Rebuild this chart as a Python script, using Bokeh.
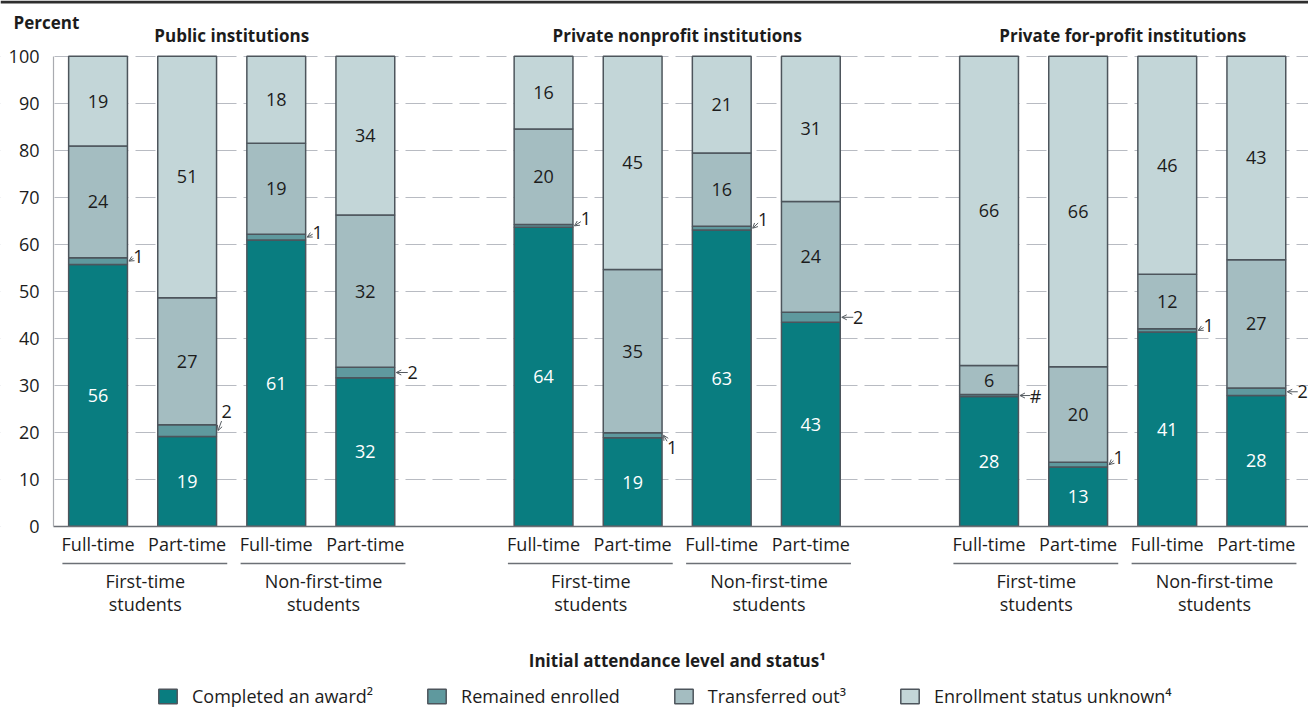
from bokeh.plotting import figure
from bokeh.models import (ColumnDataSource, FixedTicker, Label, Arrow, OpenHead,
                          Legend, LegendItem, Range1d, LinearAxis, BoxAnnotation)
from bokeh.embed import file_html
from bokeh.resources import INLINE
from bokeh.core.properties import value

# ---------------- data ----------------
panels = ["Public institutions", "Private nonprofit institutions", "Private for-profit institutions"]
statuses = ["Full-time", "Part-time", "Full-time", "Part-time"]
groups = [("First-time", "students"), ("Non-first-time", "students")]
series_names = ["Completed an award\u00b2", "Remained enrolled", "Transferred out\u00b3",
                "Enrollment status unknown\u2074"]
y_ticks = [0, 10, 20, 30, 40, 50, 60, 70, 80, 90, 100]
y_label = "Percent"
x_title = "Initial attendance level and status\u00b9"

completed = [55.7, 19.1, 60.9, 31.6, 63.6, 18.8, 63.0, 43.4, 27.6, 12.6, 41.3, 27.8]
remained = [1.4, 2.5, 1.2, 2.2, 0.6, 1.1, 0.8, 2.1, 0.4, 1.0, 0.7, 1.6]
transferred = [23.8, 27.0, 19.4, 32.4, 20.3, 34.7, 15.6, 23.6, 6.2, 20.3, 11.6, 27.3]
unknown = [19.1, 51.4, 18.5, 33.8, 15.5, 45.4, 20.6, 30.9, 65.8, 66.1, 46.4, 43.3]

completed_lbl = ["56", "19", "61", "32", "64", "19", "63", "43", "28", "13", "41", "28"]
remained_lbl = ["1", "2", "1", "2", "1", "1", "1", "2", "#", "1", "1", "2"]
transferred_lbl = ["24", "27", "19", "32", "20", "35", "16", "24", "6", "20", "12", "27"]
unknown_lbl = ["19", "51", "18", "34", "16", "45", "21", "31", "66", "66", "46", "43"]

# ---------------- style ----------------
FONT = "Open Sans"
TXT = "#1c1c1c"
COLORS = ["#097d80", "#5f999e", "#a4bdc1", "#c3d6d8"]
OUTLINE = "#4d555c"
W, H = 1308, 711
PX_X = 89.1   # pixels per x unit
PX_Y = 4.7    # pixels per y unit
X0_PX, Y100_PX = 53.0, 55.7        # page pixel of x=-0.5 and y=100
HALF_W = 0.33
# pixel offsets of the small "remained enrolled" callouts (screen y down)
rem_dx = [11, 10, 12, 18, 13, 10, 12, 18, 17, 11, 12, 17]
rem_dy = [-5, -19, -5, 0, -7, 12, -9, 0, 0, -7, -5, 0]


def dx_(px):  # page x pixel -> data x
    return -0.5 + (px - X0_PX) / PX_X


def dy_(py):  # page y pixel -> data y
    return 100 + (Y100_PX - py) / PX_Y


n = len(completed)
xs = [(i // 4) * 5 + (i % 4) for i in range(n)]

src = ColumnDataSource(dict(x=xs, completed=completed, remained=remained,
                            transferred=transferred, unknown=unknown))

p = figure(width=W, height=H, x_range=Range1d(dx_(0), dx_(W)), y_range=Range1d(dy_(H), dy_(0)),
           output_backend="svg", toolbar_location=None,
           x_axis_location=None, y_axis_location=None, min_border=0)
p.outline_line_color = None
p.background_fill_color = "white"
p.xgrid.visible = False
p.ygrid.ticker = FixedTicker(ticks=y_ticks)
p.ygrid.grid_line_color = "#b8bbc2"
p.ygrid.grid_line_width = 1.2
p.ygrid.grid_line_dash = "20 7"
# keep grid lines from running under the y tick labels
p.add_layout(BoxAnnotation(right=-0.5, fill_color="white", fill_alpha=1, line_color=None,
                           level="underlay"))

ya = LinearAxis(fixed_location=-0.5, bounds=(0, 100), ticker=FixedTicker(ticks=y_ticks))
ya.axis_line_color = "#a9abb0"
ya.axis_line_width = 1.2
ya.major_tick_line_color = None
ya.minor_tick_line_color = None
ya.major_label_standoff = 8
ya.major_label_text_font = FONT
ya.major_label_text_font_size = "18px"
ya.major_label_text_color = TXT
p.add_layout(ya, "left")

xa = LinearAxis(fixed_location=0, bounds=(-0.5, dx_(W)), ticker=FixedTicker(ticks=xs))
xa.major_label_overrides = {x: statuses[i % 4] for i, x in enumerate(xs)}
xa.axis_line_color = "#6c7076"
xa.axis_line_width = 1.6
xa.major_tick_line_color = None
xa.minor_tick_line_color = None
xa.major_tick_out = 0
xa.major_tick_in = 0
xa.major_label_standoff = 6
xa.major_label_text_font = FONT
xa.major_label_text_font_size = "18px"
xa.major_label_text_color = TXT
p.add_layout(xa, "below")

renderers = p.vbar_stack(["completed", "remained", "transferred", "unknown"], x="x",
                         width=2 * HALF_W, source=src, fill_color=COLORS,
                         line_color=OUTLINE, line_width=1.5)

# stacked positions
c0 = completed
c1 = [a + b for a, b in zip(c0, remained)]
c2 = [a + b for a, b in zip(c1, transferred)]
c3 = [a + b for a, b in zip(c2, unknown)]

tx, ty, tt, tc = [], [], [], []
for i in range(n):
    tx += [xs[i]] * 3
    ty += [c0[i] / 2, (c1[i] + c2[i]) / 2, (c2[i] + c3[i]) / 2]
    tt += [completed_lbl[i], transferred_lbl[i], unknown_lbl[i]]
    tc += ["white", TXT, TXT]
p.text(x="x", y="y", text="t", text_color="c",
       source=ColumnDataSource(dict(x=tx, y=ty, t=tt, c=tc)),
       text_align="center", text_baseline="middle",
       text_font=value(FONT), text_font_size="18px")

# remained-enrolled callouts
lx, ly, ax0, ay0, ax1, ay1 = [], [], [], [], [], []
for i in range(n):
    mid = (c0[i] + c1[i]) / 2
    edge = xs[i] + HALF_W
    ddx, ddy = rem_dx[i], rem_dy[i]
    lx.append(edge + ddx / PX_X)
    ly.append(mid - ddy / PX_Y)
    f = (ddx - 5) / ddx
    ax0.append(edge + (ddx - 5) / PX_X)
    ay0.append(mid - ddy * f / PX_Y)
    ax1.append(edge + 1.5 / PX_X)
    ay1.append(mid)
p.text(x="x", y="y", text="t", source=ColumnDataSource(dict(x=lx, y=ly, t=remained_lbl)),
       text_align="center", text_baseline="middle", text_color=TXT,
       text_font=value(FONT), text_font_size="18px")
p.add_layout(Arrow(end=OpenHead(size=5, line_color="#555b60", line_width=1),
                   x_start="x0", y_start="y0", x_end="x1", y_end="y1",
                   source=ColumnDataSource(dict(x0=ax0, y0=ay0, x1=ax1, y1=ay1)),
                   line_color="#555b60", line_width=1))

# panel titles
for k, name in enumerate(panels):
    p.add_layout(Label(x=k * 5 + 1.5, y=dy_(35), text=name,
                       text_align="center", text_baseline="middle",
                       text_font=FONT, text_font_size="17px", text_font_style="bold",
                       text_color=TXT))

# y label
p.add_layout(Label(x=dx_(13), y=dy_(22), text=y_label,
                   text_align="left", text_baseline="middle", text_font=FONT,
                   text_font_size="17px", text_font_style="bold", text_color=TXT))

# top rule
p.segment(x0=[dx_(0)], y0=[dy_(1.5)], x1=[dx_(W)], y1=[dy_(1.5)],
          line_color="#2e2e2e", line_width=3)

# group labels with underline
sx0, sx1, sy = [], [], []
for k in range(3):
    for g, (l1, l2) in enumerate(groups):
        left = k * 5 + 2 * g
        right = left + 1
        sx0.append(left - 0.4)
        sx1.append(right + 0.45)
        sy.append(dy_(563))
        cx = (left + right) / 2 + 0.03
        for txt, py in ((l1, 580), (l2, 603)):
            p.add_layout(Label(x=cx, y=dy_(py), text=txt,
                               text_align="center", text_baseline="middle",
                               text_font=FONT, text_font_size="18px", text_color=TXT))
p.segment(x0=sx0, y0=sy, x1=sx1, y1=sy, line_color="#6c7076", line_width=1.5)

# axis title
p.add_layout(Label(x=6.5, y=dy_(660), text=x_title, text_align="center",
                   text_baseline="middle", text_font=FONT, text_font_size="17px",
                   text_font_style="bold", text_color=TXT))

legend = Legend(items=[LegendItem(label=nm, renderers=[r]) for nm, r in zip(series_names, renderers)],
                orientation="horizontal", location=(156, 3),
                glyph_width=23, glyph_height=18, label_standoff=13, spacing=52,
                padding=0, margin=0, border_line_color=None, background_fill_alpha=0,
                label_text_font=FONT, label_text_font_size="18px", label_text_color=TXT)
p.add_layout(legend)

open("out.html", "w").write(file_html(p, INLINE))
